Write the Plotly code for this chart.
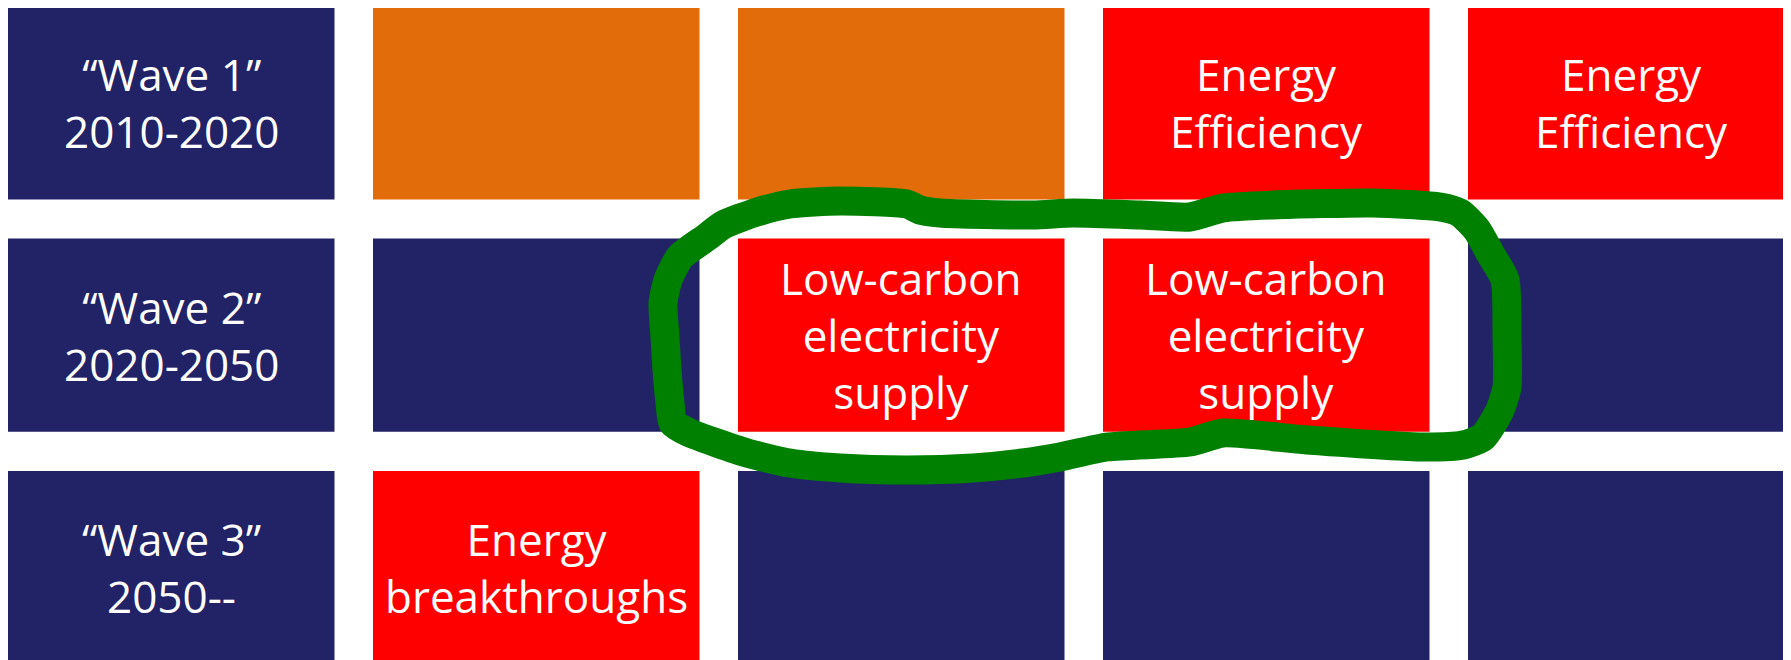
import plotly.graph_objects as go

# ---- data ----
row_labels = ["“Wave 1”<br>2010-2020", "“Wave 2”<br>2020-2050", "“Wave 3”<br>2050--"]

cell_texts = [
    ["", "", "Energy<br>Efficiency", "Energy<br>Efficiency"],
    ["", "Low-carbon<br>electricity<br>supply", "Low-carbon<br>electricity<br>supply", ""],
    ["Energy<br>breakthroughs", "", "", ""],
]

cell_kinds = [
    ["orange", "orange", "red", "red"],
    ["navy", "red", "red", "navy"],
    ["red", "navy", "navy", "navy"],
]

# hand-drawn highlight loop (pixel space of the slide)
loop_x = [840, 907, 920, 940, 1033, 1073, 1140, 1190, 1223, 1273, 1373, 1440, 1460, 1477,
          1490, 1505, 1507, 1507, 1500, 1483, 1463, 1423, 1307, 1223, 1190, 1107, 1060, 1023,
          973, 907, 840, 790, 747, 717, 690, 673, 670, 667, 665, 663, 668, 680, 707, 723, 757,
          790, 840]
loop_y = [201, 204, 210, 213, 215, 213, 215, 217, 208, 205, 203, 207, 213, 230,
          253, 280, 337, 387, 410, 437, 445, 447, 440, 433, 442, 447, 457, 463,
          468, 470, 468, 463, 453, 443, 433, 423, 403, 370, 337, 303, 280, 257, 237, 225, 212,
          204, 201]

# ---- styling ----
colors = {"navy": "#222266", "orange": "#E36C0A", "red": "#FF0000"}
W, H = 1791, 660
PAGE_MARGIN = 8  # default body margin of the html page
x_start, x_pitch, cell_w = 8, 365, 326.5
y_start, y_pitch, cell_h = 6.3, 232.3, 193.2
FONT = "Open Sans"
FSIZE = 44

fig = go.Figure()
shapes = []
annotations = []

def add_cell(col, row, color, text):
    x0 = x_start + col * x_pitch
    y0 = y_start + row * y_pitch
    shapes.append(dict(type="rect", xref="x", yref="y", x0=x0, x1=x0 + cell_w,
                       y0=y0, y1=y0 + cell_h, fillcolor=color, line=dict(width=0),
                       layer="below"))
    if text:
        annotations.append(dict(x=x0 + cell_w / 2, y=y0 + cell_h / 2, xref="x", yref="y",
                                text=text, showarrow=False, xanchor="center", yanchor="middle",
                                font=dict(family=FONT, size=FSIZE, color="white")))

for r, lab in enumerate(row_labels):
    add_cell(0, r, colors["navy"], lab)
    for c in range(4):
        add_cell(c + 1, r, colors[cell_kinds[r][c]], cell_texts[r][c])

fig.add_trace(go.Scatter(x=loop_x, y=loop_y, mode="lines",
                         line=dict(color="#008000", width=29, shape="spline", smoothing=0.6),
                         hoverinfo="skip", showlegend=False))

fig.update_layout(
    width=W - PAGE_MARGIN, height=H - PAGE_MARGIN, margin=dict(l=0, r=0, t=0, b=0),
    paper_bgcolor="white", plot_bgcolor="white",
    shapes=shapes, annotations=annotations, showlegend=False,
    xaxis=dict(range=[PAGE_MARGIN, W], visible=False, fixedrange=True),
    yaxis=dict(range=[H, PAGE_MARGIN], visible=False, fixedrange=True),
)

fig.write_html("out.html")
